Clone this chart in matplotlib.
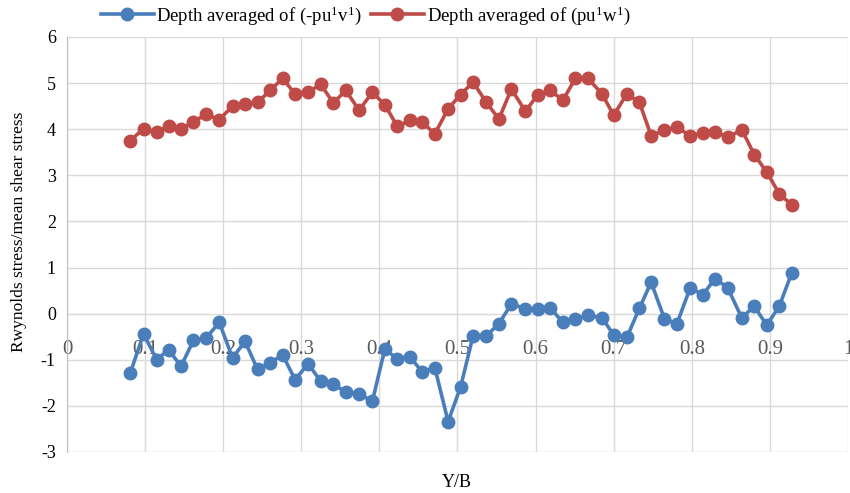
import matplotlib
matplotlib.use("Agg")
import matplotlib.pyplot as plt

plt.rcParams['font.family'] = ['Liberation Serif', 'DejaVu Serif']
plt.rcParams['mathtext.fontset'] = 'custom'
plt.rcParams['mathtext.rm'] = 'Liberation Serif'
plt.rcParams['mathtext.it'] = 'Liberation Serif:italic'
plt.rcParams['axes.unicode_minus'] = False

# Y/B positions
yb = [0.081, 0.098, 0.115, 0.130, 0.146, 0.162, 0.178, 0.195, 0.212, 0.228,
      0.244, 0.260, 0.276, 0.292, 0.309, 0.325, 0.341, 0.357, 0.374, 0.391,
      0.407, 0.423, 0.439, 0.455, 0.471, 0.488, 0.504, 0.520, 0.537, 0.553,
      0.569, 0.587, 0.603, 0.619, 0.635, 0.651, 0.667, 0.685, 0.700, 0.717,
      0.733, 0.748, 0.765, 0.781, 0.798, 0.814, 0.830, 0.846, 0.864, 0.880,
      0.896, 0.912, 0.928]

# depth averaged of (-pu'v')
uv = [-1.29, -0.44, -1.00, -0.78, -1.14, -0.58, -0.53, -0.19, -0.96, -0.60,
      -1.21, -1.07, -0.89, -1.43, -1.09, -1.47, -1.53, -1.70, -1.74, -1.90,
      -0.77, -0.98, -0.93, -1.27, -1.17, -2.34, -1.59, -0.48, -0.48, -0.22,
      0.21, 0.11, 0.09, 0.12, -0.19, -0.12, -0.04, -0.09, -0.46, -0.51,
      0.12, 0.68, -0.11, -0.22, 0.56, 0.41, 0.76, 0.56, -0.09, 0.16,
      -0.25, 0.16, 0.88]

# depth averaged of (pu'w')
uw = [3.75, 4.01, 3.94, 4.06, 4.01, 4.16, 4.32, 4.21, 4.50, 4.55,
      4.58, 4.84, 5.10, 4.77, 4.81, 4.97, 4.57, 4.84, 4.41, 4.80,
      4.53, 4.06, 4.19, 4.15, 3.90, 4.44, 4.75, 5.02, 4.58, 4.22,
      4.87, 4.39, 4.75, 4.84, 4.63, 5.10, 5.10, 4.77, 4.30, 4.77,
      4.58, 3.86, 3.98, 4.04, 3.86, 3.92, 3.95, 3.82, 3.99, 3.45,
      3.07, 2.60, 2.36]

blue = '#4A7EBB'
red = '#BE4B48'

fig = plt.figure(figsize=(8.5, 4.93), dpi=100)
ax = fig.add_axes([0.0788, 0.0832, 0.9188, 0.8418])

ax.plot(yb, uv, '-o', color=blue, lw=2.6, ms=9, label='Depth averaged of (-pu$^1$v$^1$)')
ax.plot(yb, uw, '-o', color=red, lw=2.6, ms=9, label='Depth averaged of (pu$^1$w$^1$)')

ax.set_xlim(0, 1)
ax.set_ylim(-3, 6)
ax.set_xticks([i / 10 for i in range(11)])
ax.set_xticklabels(['0', '0.1', '0.2', '0.3', '0.4', '0.5', '0.6', '0.7', '0.8', '0.9', '1'])
ax.set_yticks(range(-3, 7))

ax.grid(True, color='#D9D9D9', lw=1)
ax.set_axisbelow(True)

for s in ['top', 'right']:
    ax.spines[s].set_visible(False)
ax.spines['bottom'].set_position(('data', 0))
ax.spines['bottom'].set_visible(False)
ax.spines['left'].set_color('#BFBFBF')

ax.tick_params(axis='x', length=0, pad=19, labelsize=15, labelcolor='#595959')
ax.tick_params(axis='y', length=0, pad=8, labelsize=13)

ax.set_ylabel('Rwynolds stress/mean shear stress', fontsize=12.5)
ax.yaxis.set_label_coords(-0.051, 0.53)
fig.text(0.537, 0.022, 'Y/B', fontsize=13, ha='center', va='center')

fig.legend(loc='center', bbox_to_anchor=(0.43, 0.968), ncol=2, frameon=False,
           fontsize=13.5, handlelength=2.8, columnspacing=0.5, handletextpad=0.15,
           borderaxespad=0)

fig.savefig('out.png', dpi=100)
